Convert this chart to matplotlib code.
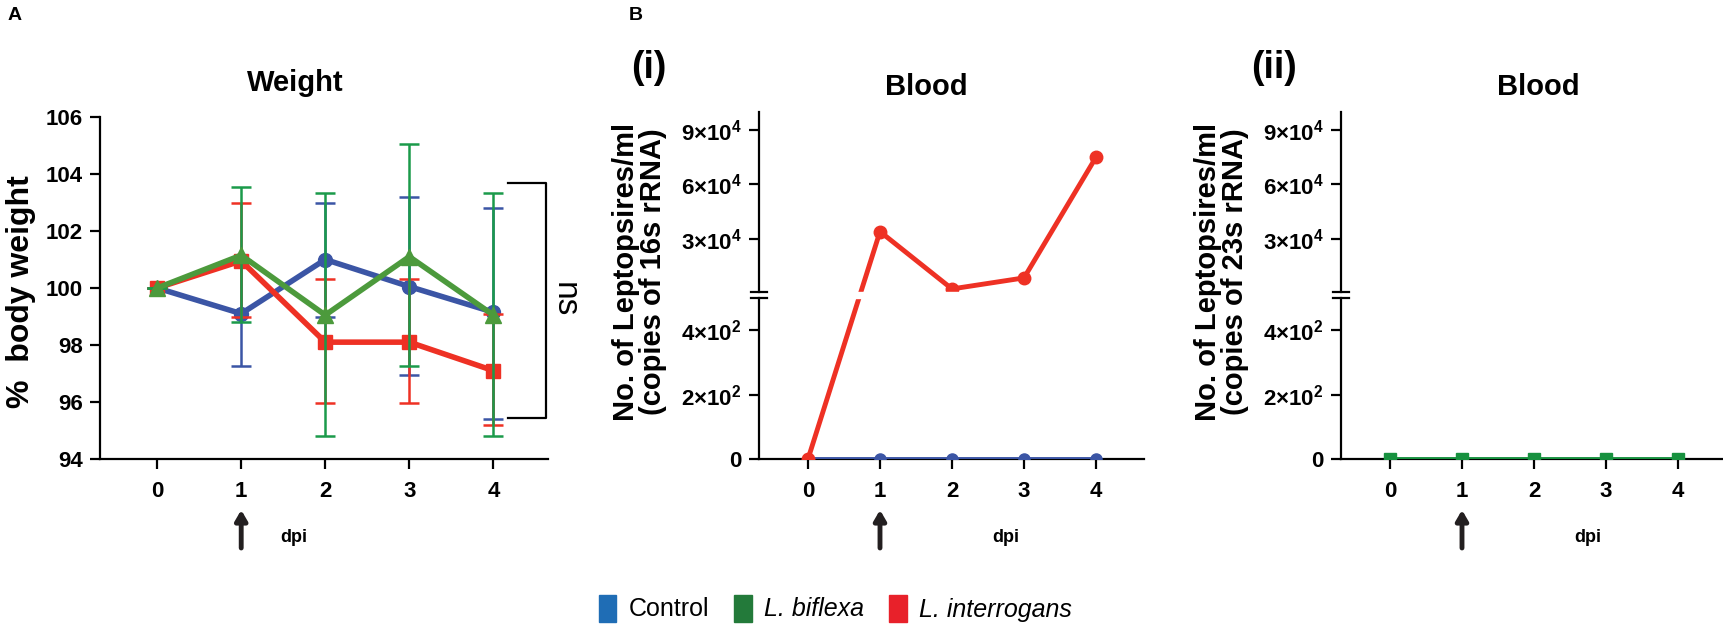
import numpy as np
import matplotlib
matplotlib.use("Agg")
import matplotlib.pyplot as plt
from matplotlib.patches import Patch
from matplotlib.transforms import blended_transform_factory

plt.rcParams['font.family'] = ['Liberation Sans', 'DejaVu Sans']
plt.rcParams['mathtext.fontset'] = 'custom'
plt.rcParams['mathtext.rm'] = 'Liberation Sans'
plt.rcParams['mathtext.bf'] = 'Liberation Sans:bold'

# ---- data ----
days = [0, 1, 2, 3, 4]
day_labels = ["0", "1", "2", "3", "4"]

# weight (% body weight), mean / lower / upper error bar
ctrl_w = [100.0, 99.1, 101.0, 100.05, 99.15]
ctrl_lo = [100.0, 97.25, 99.0, 96.93, 95.4]
ctrl_hi = [100.0, 101.0, 103.0, 103.2, 102.8]
bif_w = [100.0, 101.15, 99.05, 101.1, 99.05]
bif_lo = [100.0, 98.8, 94.8, 97.25, 94.8]
bif_hi = [100.0, 103.55, 103.35, 105.05, 103.35]
int_w = [100.0, 100.95, 98.1, 98.1, 97.1]
int_lo = [100.0, 99.0, 95.95, 95.95, 95.2]
int_hi = [100.0, 103.0, 100.3, 100.3, 99.1]
weight_ticks = [94, 96, 98, 100, 102, 104, 106]

# blood leptospira copies
ctrl_16s = [0, 0, 0, 0, 0]
int_16s = [0, 33900, 2200, 8300, 75000]
bif_23s = [0, 0, 0, 0, 0]
blood_ticks = [0, 200, 400, 30000, 60000, 90000]
blood_labels = ["0", r"$\mathbf{2{\times}10^{2}}$", r"$\mathbf{4{\times}10^{2}}$",
                r"$\mathbf{3{\times}10^{4}}$", r"$\mathbf{6{\times}10^{4}}$", r"$\mathbf{9{\times}10^{4}}$"]

legend_names = ["Control", "L. biflexa", "L. interrogans"]

BLUE = '#3B55A5'
RED = '#EE3124'
GREEN_LINE = '#4C9A3C'
GREEN_ERR = '#1B9A4A'
GREEN_B = '#17913F'

W, H = 1723, 625
fig = plt.figure(figsize=(W / 100, H / 100), dpi=100)


def px_axes(left, right, bottom, top):
    return fig.add_axes([left / W, 1 - bottom / H, (right - left) / W, (bottom - top) / H])


# broken y scale: 0-500 below the break, 500-1e5 above it
LOW_MAX, LOW_H, GAP, UP_H, UP_MAX = 500.0, 161.0, 6.0, 180.0, 1e5


def fwd(v):
    v = np.asarray(v, float)
    return np.where(v <= LOW_MAX, v / LOW_MAX * LOW_H,
                    LOW_H + GAP + (v - LOW_MAX) / (UP_MAX - LOW_MAX) * UP_H)


def inv(y):
    y = np.asarray(y, float)
    return np.where(y <= LOW_H, y * LOW_MAX / LOW_H,
                    np.where(y >= LOW_H + GAP,
                             LOW_MAX + (y - LOW_H - GAP) * (UP_MAX - LOW_MAX) / UP_H, LOW_MAX))


def style_axis(ax):
    for s in ['top', 'right']:
        ax.spines[s].set_visible(False)
    for s in ['left', 'bottom']:
        ax.spines[s].set_linewidth(1.6)
    ax.tick_params(width=1.6, length=7, labelsize=16)
    ax.tick_params(axis='x', pad=9)
    ax.tick_params(axis='y', pad=5.5)
    ax.set_xticks(days)
    ax.set_xticklabels(day_labels, fontweight='bold')


def add_title(ax, text, xfrac, y_px):
    tr = blended_transform_factory(ax.transAxes, fig.transFigure)
    ax.text(xfrac, (H - y_px) / H, text, transform=tr, fontsize=21, fontweight='bold',
            ha='center', va='baseline')


def add_arrow_dpi(ax, dpi_x):
    ax.annotate('', xy=(1, (H - 510) / H), xytext=(1, (H - 548) / H),
                xycoords=('data', 'figure fraction'), textcoords=('data', 'figure fraction'),
                arrowprops=dict(arrowstyle='-|>,head_width=0.35,head_length=0.6',
                                lw=3.5, color='#231F20', shrinkA=0, shrinkB=0))
    ax.annotate('dpi', xy=(dpi_x, (H - 537) / H), xycoords=('data', 'figure fraction'),
                ha='center', va='center', fontsize=13, fontweight='bold')


# ---------------- panel A ----------------
axA = px_axes(100, 548, 459, 117)
style_axis(axA)
axA.set_xlim(-0.68, 4.65)
axA.set_ylim(94, 106)
axA.set_yticks(weight_ticks)
axA.set_yticklabels([str(t) for t in weight_ticks], fontweight='bold')

series = [(ctrl_w, ctrl_lo, ctrl_hi, BLUE, BLUE, 'o', 10),
          (int_w, int_lo, int_hi, RED, RED, 's', 10),
          (bif_w, bif_lo, bif_hi, GREEN_LINE, GREEN_ERR, '^', 11)]
for i, (m, lo, hi, c, ce, mk, ms) in enumerate(series):
    m = np.array(m)
    yerr = [m - np.array(lo), np.array(hi) - m]
    axA.errorbar(days, m, yerr=yerr, fmt='none', ecolor=ce, elinewidth=1.8,
                 capsize=7, capthick=1.8, zorder=3 + i)
    axA.plot(days, m, color=c, lw=4, marker=mk, ms=ms, zorder=3 + i)

# ns bracket
axA.plot([4.18, 4.63, 4.63, 4.18], [103.7, 103.7, 95.45, 95.45], color='black', lw=1.6,
         clip_on=False)
axA.text(4.84, 99.6, 'ns', rotation=270, ha='center', va='center', fontsize=24)
axA.set_ylabel('%  body weight', fontsize=23, fontweight='bold')
axA.yaxis.set_label_coords(-0.143, 0.49)
add_title(axA, 'Weight', 0.435, 91)
add_arrow_dpi(axA, 1.62)


# ---------------- panel B ----------------
def blood_axis(left, right, label, title_x):
    ax = px_axes(left, right, 459, 112)
    style_axis(ax)
    ax.set_yscale('function', functions=(fwd, inv))
    ax.set_ylim(0, UP_MAX)
    ax.set_xlim(-49 / 72.0, (right - left - 49) / 72.0)
    ax.set_yticks(blood_ticks)
    ax.set_yticklabels(blood_labels, fontweight='bold')
    ax.yaxis.set_minor_locator(matplotlib.ticker.NullLocator())
    # y axis drawn by hand with the break marks
    ax.spines['left'].set_visible(False)
    tr = ax.get_yaxis_transform()
    ax.plot([0, 0], [0, LOW_MAX], transform=tr, color='black', lw=1.6, clip_on=False, zorder=6)
    ax.plot([0, 0], [LOW_MAX + 1, UP_MAX], transform=tr, color='black', lw=1.6, clip_on=False, zorder=6)
    dx = 8 / (right - left)
    for yb in [LOW_MAX, LOW_MAX + 1]:
        ax.plot([-dx, dx], [yb, yb], transform=tr, color='black', lw=1.6, clip_on=False, zorder=6)
    ax.axhspan(LOW_MAX, LOW_MAX + 1, color='white', zorder=5)
    ax.set_ylabel(label, fontsize=21, fontweight='bold', linespacing=0.95)
    ax.yaxis.set_label_coords(-92 / (right - left), 0.54)
    add_title(ax, 'Blood', title_x, 95)
    return ax


axB1 = blood_axis(759, 1144, 'No. of Leptopsires/ml\n(copies of 16s rRNA)', 0.434)
axB1.plot(days, ctrl_16s, color=BLUE, lw=3.5, marker='o', ms=8, zorder=3)
axB1.plot(days, int_16s, color=RED, lw=3.5, marker='o', ms=9, zorder=4)
add_arrow_dpi(axB1, 2.75)

axB2 = blood_axis(1341, 1723, 'No. of Leptopsires/ml\n(copies of 23s rRNA)', 0.516)
axB2.plot(days, bif_23s, color=GREEN_B, lw=3.5, marker='s', ms=8, zorder=4)
add_arrow_dpi(axB2, 2.75)

# panel letters
fig.text(15 / W, 1 - 15 / H, 'A', fontsize=14, fontweight='bold', ha='center', va='center')
fig.text(636 / W, 1 - 15 / H, 'B', fontsize=14, fontweight='bold', ha='center', va='center')
fig.text(649 / W, 1 - 68 / H, '(i)', fontsize=27, fontweight='bold', ha='center', va='center')
fig.text(1274 / W, 1 - 68 / H, '(ii)', fontsize=27, fontweight='bold', ha='center', va='center')

# legend
handles = [Patch(color=c) for c in ['#1F6DB5', '#237A3A', '#E8212A']]
leg = fig.legend(handles, legend_names, loc='center', bbox_to_anchor=(0.485, 0.027),
                 ncol=3, frameon=False, fontsize=18, handlelength=0.7, handleheight=1.3,
                 handletextpad=0.5, columnspacing=1.0)
for t in leg.get_texts()[1:]:
    t.set_style('italic')

fig.savefig('out.png', dpi=100)
